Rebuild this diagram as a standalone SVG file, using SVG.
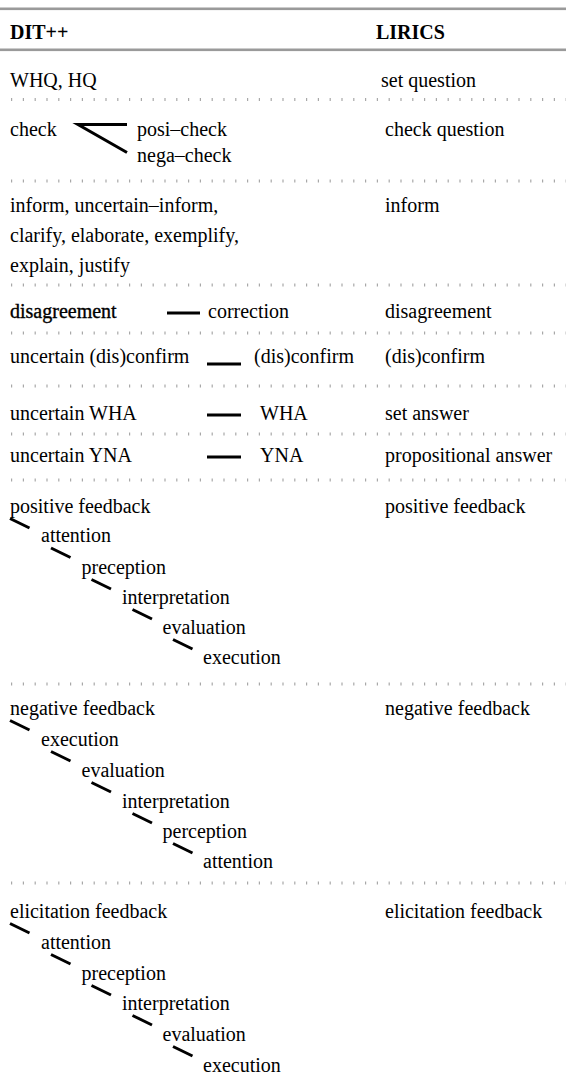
<svg xmlns="http://www.w3.org/2000/svg" width="566" height="1081" viewBox="0 0 566 1081">
<style>
text{font-family:"Liberation Serif","Times New Roman",serif;font-size:20px;fill:#000}
.h{font-weight:bold}
.dk{stroke:#000;stroke-width:0.35}
.rule{fill:#9a9a9a}
.dot{stroke:#a8a8a8;stroke-width:3;stroke-dasharray:1.2 10.6;fill:none}
.c{stroke:#000;stroke-width:3;fill:none}
</style>
<rect width="566" height="1081" fill="#fff"/>
<g id="rules">
<rect class="rule" x="0" y="7.5" width="566" height="2.6"/>
<rect class="rule" x="0" y="48.5" width="566" height="2.6"/>
<line class="dot" x1="11" y1="99.5" x2="566" y2="99.5"/>
<line class="dot" x1="11" y1="181" x2="566" y2="181"/>
<line class="dot" x1="11" y1="285" x2="566" y2="285"/>
<line class="dot" x1="11" y1="333" x2="566" y2="333"/>
<line class="dot" x1="11" y1="386" x2="566" y2="386"/>
<line class="dot" x1="11" y1="434" x2="566" y2="434"/>
<line class="dot" x1="11" y1="480" x2="566" y2="480"/>
<line class="dot" x1="11" y1="684" x2="566" y2="684"/>
<line class="dot" x1="11" y1="883" x2="566" y2="883"/>
</g>
<g id="header">
<text class="h" x="10" y="39">DIT++</text>
<text class="h" x="376" y="39">LIRICS</text>
</g>
<g id="n-whq"><text x="10" y="87">WHQ, HQ</text></g>
<g id="n-setq"><text x="381" y="87">set question</text></g>
<g id="n-check"><text x="10" y="136">check</text></g>
<g id="n-posi"><text x="137" y="136">posi–check</text></g>
<g id="n-nega"><text x="137" y="162">nega–check</text></g>
<g id="n-checkq"><text x="385" y="136">check question</text></g>
<g id="n-inform-dit"><text x="10" y="212">inform, uncertain–inform,</text><text x="10" y="242">clarify, elaborate, exemplify,</text><text x="10" y="272">explain, justify</text></g>
<g id="n-inform"><text x="385" y="212">inform</text></g>
<g id="n-disag-dit"><text class="dk" x="10" y="318">disagreement</text></g>
<g id="n-correction"><text x="208" y="318">correction</text></g>
<g id="n-disag"><text x="385" y="318">disagreement</text></g>
<g id="n-uconf"><text x="10" y="363">uncertain (dis)confirm</text></g>
<g id="n-conf-dit"><text x="254" y="363">(dis)confirm</text></g>
<g id="n-conf"><text x="385" y="363">(dis)confirm</text></g>
<g id="n-uwha"><text x="10" y="420">uncertain WHA</text></g>
<g id="n-wha"><text x="260" y="420">WHA</text></g>
<g id="n-seta"><text x="385" y="420">set answer</text></g>
<g id="n-uyna"><text x="10" y="462">uncertain YNA</text></g>
<g id="n-yna"><text x="260" y="462">YNA</text></g>
<g id="n-propa"><text x="385" y="462">propositional answer</text></g>
<g id="n-posfb">
<text x="10" y="513">positive feedback</text>
<text x="41" y="542">attention</text>
<text x="81.5" y="574">preception</text>
<text x="122" y="604">interpretation</text>
<text x="162.5" y="634">evaluation</text>
<text x="203" y="664">execution</text>
</g>
<g id="n-posfb-l"><text x="385" y="513">positive feedback</text></g>
<g id="n-negfb">
<text x="10" y="715">negative feedback</text>
<text x="41" y="746">execution</text>
<text x="81.5" y="777">evaluation</text>
<text x="122" y="808">interpretation</text>
<text x="162.5" y="838">perception</text>
<text x="203" y="868">attention</text>
</g>
<g id="n-negfb-l"><text x="385" y="715">negative feedback</text></g>
<g id="n-elfb">
<text x="10" y="918">elicitation feedback</text>
<text x="41" y="949">attention</text>
<text x="81.5" y="980">preception</text>
<text x="122" y="1010">interpretation</text>
<text x="162.5" y="1041">evaluation</text>
<text x="203" y="1072">execution</text>
</g>
<g id="n-elfb-l"><text x="385" y="918">elicitation feedback</text></g>
<g id="connectors">
<path class="c" d="M127,124.5 H78 L127,152.5"/>
<line class="c" x1="167" y1="313" x2="200" y2="313"/>
<line class="c" x1="207" y1="364" x2="241" y2="364"/>
<line class="c" x1="207" y1="415" x2="241" y2="415"/>
<line class="c" x1="207" y1="457" x2="241" y2="457"/>
<line class="c" x1="10" y1="518.5" x2="29.5" y2="528"/>
<line class="c" x1="51" y1="548" x2="70.5" y2="557.5"/>
<line class="c" x1="91.5" y1="579.5" x2="111" y2="589"/>
<line class="c" x1="132.5" y1="609.5" x2="152" y2="619"/>
<line class="c" x1="173" y1="639.5" x2="192.5" y2="649"/>
<line class="c" x1="10" y1="720.5" x2="29.5" y2="730"/>
<line class="c" x1="51" y1="751.5" x2="70.5" y2="761"/>
<line class="c" x1="91.5" y1="782.5" x2="111" y2="792"/>
<line class="c" x1="132.5" y1="813.5" x2="152" y2="823"/>
<line class="c" x1="173" y1="843.5" x2="192.5" y2="853"/>
<line class="c" x1="10" y1="923.5" x2="29.5" y2="933"/>
<line class="c" x1="51" y1="954.5" x2="70.5" y2="964"/>
<line class="c" x1="91.5" y1="985.5" x2="111" y2="995"/>
<line class="c" x1="132.5" y1="1015.5" x2="152" y2="1025"/>
<line class="c" x1="173" y1="1046.5" x2="192.5" y2="1056"/>
</g>
</svg>
